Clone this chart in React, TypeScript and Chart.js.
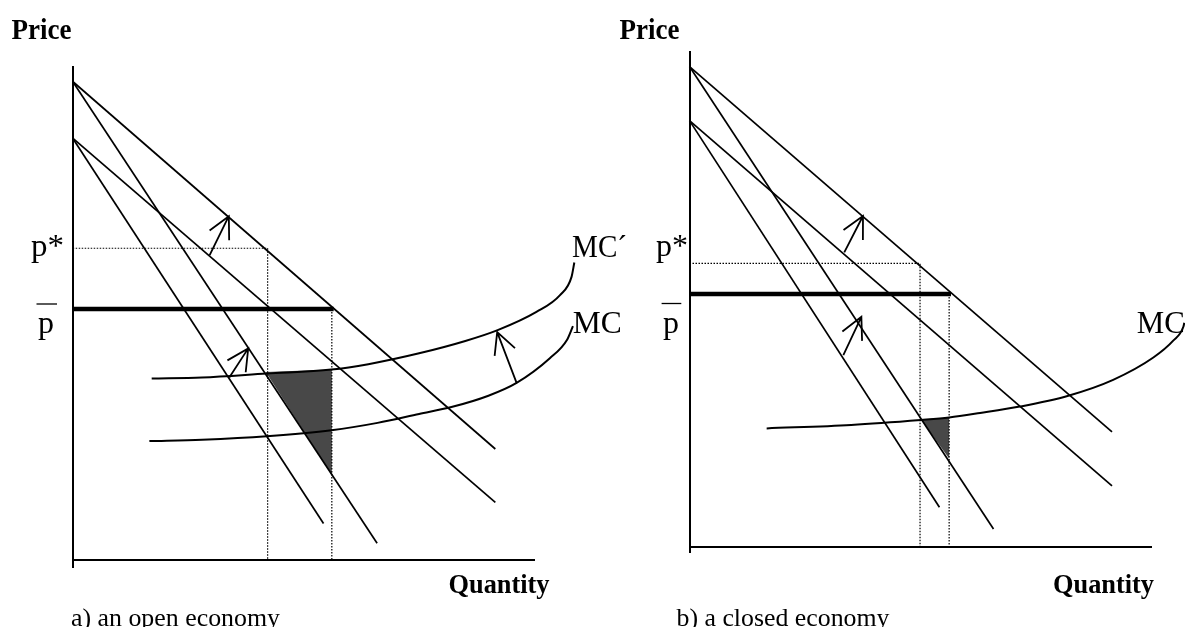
import React, { useEffect, useRef } from "react";
import { Chart, registerables } from "chart.js";

Chart.register(...registerables);

type Pt = { x: number; y: number };
type Arrow = { from: Pt; to: Pt };

// ---------- Panel a) an open economy (quantity 0..100, price 0..100) ----------
const A_D1_FLAT: Pt[] = [{ x: 0, y: 97 }, { x: 91.5, y: 22.5 }];
const A_D1_STEEP: Pt[] = [{ x: 0, y: 97 }, { x: 65.9, y: 3.4 }];
const A_D0_FLAT: Pt[] = [{ x: 0, y: 85.5 }, { x: 91.5, y: 11.7 }];
const A_D0_STEEP: Pt[] = [{ x: 0, y: 85.5 }, { x: 54.3, y: 7.4 }];
const A_MC: Pt[] = [
  { x: 16.6, y: 24.1 }, { x: 28, y: 24.4 }, { x: 42, y: 25.1 }, { x: 56, y: 26.3 },
  { x: 66, y: 27.8 }, { x: 75, y: 29.6 }, { x: 82, y: 31.0 }, { x: 90, y: 33.3 },
  { x: 96.1, y: 35.9 }, { x: 103.3, y: 40.9 }, { x: 107, y: 44.6 }, { x: 108.3, y: 47.4 },
];
const A_MC_PRIME: Pt[] = [
  { x: 17.1, y: 36.8 }, { x: 28, y: 37.0 }, { x: 42, y: 37.8 }, { x: 56, y: 38.6 },
  { x: 64, y: 39.7 }, { x: 75, y: 41.9 }, { x: 85, y: 44.4 }, { x: 92, y: 46.6 },
  { x: 100.4, y: 50.3 }, { x: 105.5, y: 53.7 }, { x: 108, y: 57.4 }, { x: 108.6, y: 60.3 },
];
const A_P_STAR = 63.2;
const A_Q_STAR = 42.2;
const A_P_BAR = 50.9;
const A_P_BAR_END = 56.5;
const A_Q_BAR = 56.1;
const A_LOSS: Pt[] = [{ x: 41.8, y: 38.1 }, { x: 56.1, y: 38.6 }, { x: 56.1, y: 17.2 }];
const A_ARROWS: Arrow[] = [
  { from: { x: 29.65, y: 61.8 }, to: { x: 33.8, y: 69.7 } },
  { from: { x: 33.9, y: 37.0 }, to: { x: 38.0, y: 42.9 } },
  { from: { x: 96.1, y: 35.9 }, to: { x: 91.9, y: 46.2 } },
];

// ---------- Panel b) a closed economy ----------
const B_D1_FLAT: Pt[] = [{ x: 0, y: 97 }, { x: 91.45, y: 23.3 }];
const B_D1_STEEP: Pt[] = [{ x: 0, y: 97 }, { x: 65.8, y: 3.7 }];
const B_D0_FLAT: Pt[] = [{ x: 0, y: 86.1 }, { x: 91.45, y: 12.4 }];
const B_D0_STEEP: Pt[] = [{ x: 0, y: 86.1 }, { x: 54.1, y: 8.1 }];
const B_MC: Pt[] = [
  { x: 16.7, y: 24.0 }, { x: 35, y: 24.7 }, { x: 50.1, y: 25.7 }, { x: 56.2, y: 26.2 },
  { x: 62.9, y: 27.1 }, { x: 71.5, y: 28.4 }, { x: 82, y: 30.6 }, { x: 91.7, y: 33.8 },
  { x: 100.4, y: 38.3 }, { x: 104.7, y: 41.7 }, { x: 106.9, y: 44.5 }, { x: 107.1, y: 45.3 },
];
const B_P_STAR = 57.3;
const B_Q_STAR = 49.9;
const B_P_BAR = 51.1;
const B_P_BAR_END = 56.6;
const B_Q_BAR = 56.2;
const B_LOSS: Pt[] = [{ x: 50.1, y: 25.8 }, { x: 56.2, y: 26.2 }, { x: 56.2, y: 17.9 }];
const B_ARROWS: Arrow[] = [
  { from: { x: 33.5, y: 59.5 }, to: { x: 37.55, y: 66.85 } },
  { from: { x: 33.3, y: 38.8 }, to: { x: 37.2, y: 46.5 } },
];

// ---------- text ----------
const FONT = '"Liberation Serif", "Times New Roman", serif';
type Label = {
  text: string; x: number; y: number; size: number; bold?: boolean; width?: number;
  overbar?: [number, number, number];
};

const A_LABELS: Label[] = [
  { text: "Price", x: 11.5, y: 39.3, size: 29, bold: true, width: 60 },
  { text: "p*", x: 31, y: 256, size: 32, width: 33 },
  { text: "p", x: 38, y: 333, size: 32, overbar: [36.5, 57, 304] },
  { text: "MC\u00B4", x: 572, y: 256.7, size: 32, width: 55 },
  { text: "MC", x: 572.7, y: 333.3, size: 32, width: 49 },
  { text: "Quantity", x: 448.5, y: 593, size: 27, bold: true, width: 101 },
  { text: "a) an open economy", x: 71, y: 626, size: 25, width: 209 },
];
const B_LABELS: Label[] = [
  { text: "Price", x: 619.4, y: 39.3, size: 29, bold: true, width: 60 },
  { text: "p*", x: 656, y: 256, size: 32, width: 32 },
  { text: "p", x: 663, y: 333, size: 32, overbar: [661.6, 681.3, 303.5] },
  { text: "MC", x: 1136.7, y: 333.3, size: 32, width: 48 },
  { text: "Quantity", x: 1053, y: 593, size: 27, bold: true, width: 101 },
  { text: "b) a closed economy", x: 676.5, y: 626, size: 25, width: 213 },
];

type Panel = {
  flat1: Pt[]; steep1: Pt[]; flat0: Pt[]; steep0: Pt[];
  curves: Pt[][];
  pStar: number; qStar: number; pBar: number; pBarEnd: number; qBar: number;
  loss: Pt[]; arrows: Arrow[]; labels: Label[];
  area: { left: number; right: number; top: number; bottom: number }; yMin: number;
};

const PANEL_A: Panel = {
  flat1: A_D1_FLAT, steep1: A_D1_STEEP, flat0: A_D0_FLAT, steep0: A_D0_STEEP,
  curves: [A_MC, A_MC_PRIME],
  pStar: A_P_STAR, qStar: A_Q_STAR, pBar: A_P_BAR, pBarEnd: A_P_BAR_END, qBar: A_Q_BAR,
  loss: A_LOSS, arrows: A_ARROWS, labels: A_LABELS,
  area: { left: 72.7, right: 534.6, top: 66.7, bottom: 567.4 }, yMin: -1.5,
};
const PANEL_B: Panel = {
  flat1: B_D1_FLAT, steep1: B_D1_STEEP, flat0: B_D0_FLAT, steep0: B_D0_STEEP,
  curves: [B_MC],
  pStar: B_P_STAR, qStar: B_Q_STAR, pBar: B_P_BAR, pBarEnd: B_P_BAR_END, qBar: B_Q_BAR,
  loss: B_LOSS, arrows: B_ARROWS, labels: B_LABELS,
  area: { left: 689.5, right: 1151.5, top: 51.7, bottom: 552.3 }, yMin: -1,
};

const W = 1185;
const H = 627;

function decorPlugin(panel: Panel) {
  return {
    id: "decor",
    beforeDatasetsDraw(chart: any) {
      const { ctx, scales } = chart;
      const xs = scales.x, ys = scales.y;
      ctx.save();
      ctx.beginPath();
      panel.loss.forEach((p, i) => {
        const px = xs.getPixelForValue(p.x);
        const py = ys.getPixelForValue(p.y);
        if (i === 0) ctx.moveTo(px, py); else ctx.lineTo(px, py);
      });
      ctx.closePath();
      ctx.fillStyle = "#484848";
      ctx.fill();
      ctx.restore();
    },
    afterDatasetsDraw(chart: any) {
      const { ctx, scales } = chart;
      const xs = scales.x, ys = scales.y;
      ctx.save();
      ctx.strokeStyle = "#000";
      ctx.lineWidth = 1.8;
      const L = 24;
      const a = (27 * Math.PI) / 180;
      panel.arrows.forEach((ar) => {
        const x0 = xs.getPixelForValue(ar.from.x), y0 = ys.getPixelForValue(ar.from.y);
        const x1 = xs.getPixelForValue(ar.to.x), y1 = ys.getPixelForValue(ar.to.y);
        const ang = Math.atan2(y1 - y0, x1 - x0);
        ctx.beginPath();
        ctx.moveTo(x0, y0);
        ctx.lineTo(x1, y1);
        ctx.moveTo(x1 - L * Math.cos(ang - a), y1 - L * Math.sin(ang - a));
        ctx.lineTo(x1, y1);
        ctx.lineTo(x1 - L * Math.cos(ang + a), y1 - L * Math.sin(ang + a));
        ctx.stroke();
      });
      ctx.restore();
    },
    afterDraw(chart: any) {
      const { ctx } = chart;
      ctx.save();
      ctx.fillStyle = "#000";
      ctx.textBaseline = "alphabetic";
      ctx.textAlign = "left";
      panel.labels.forEach((lb) => {
        ctx.font = `${lb.bold ? "bold " : ""}${lb.size}px ${FONT}`;
        const w = ctx.measureText(lb.text).width;
        const sx = lb.width ? lb.width / w : 1;
        ctx.save();
        ctx.translate(lb.x, lb.y);
        ctx.scale(sx, 1);
        ctx.fillText(lb.text, 0, 0);
        ctx.restore();
        if (lb.overbar) {
          ctx.beginPath();
          ctx.lineWidth = 1.3;
          ctx.strokeStyle = "#000";
          ctx.moveTo(lb.overbar[0], lb.overbar[2]);
          ctx.lineTo(lb.overbar[1], lb.overbar[2]);
          ctx.stroke();
        }
      });
      ctx.restore();
    },
  };
}

function lineDs(data: Pt[], width: number, extra: any = {}) {
  return {
    data,
    borderColor: "#000",
    backgroundColor: "#000",
    borderWidth: width,
    pointRadius: 0,
    fill: false,
    tension: 0,
    clip: false,
    ...extra,
  };
}

function buildConfig(panel: Panel): any {
  const datasets: any[] = [
    lineDs(panel.flat1, 1.7),
    lineDs(panel.steep1, 1.7),
    lineDs(panel.flat0, 1.7),
    lineDs(panel.steep0, 1.7),
    ...panel.curves.map((c) => lineDs(c, 2, { cubicInterpolationMode: "monotone" })),
    lineDs(
      [{ x: 0, y: panel.pBar }, { x: panel.pBarEnd, y: panel.pBar }],
      4.5,
      { borderCapStyle: "butt" }
    ),
    lineDs(
      [{ x: 0, y: panel.pStar }, { x: panel.qStar, y: panel.pStar }, { x: panel.qStar, y: 0 }],
      1.2,
      { borderDash: [1.5, 1.5] }
    ),
    lineDs(
      [{ x: panel.qBar, y: panel.pBar }, { x: panel.qBar, y: 0 }],
      1.2,
      { borderDash: [1.5, 1.5] }
    ),
  ];
  const axisCommon = {
    grid: { display: false, drawTicks: false },
    ticks: { display: false },
    border: { display: true, color: "#000", width: 2 },
  };
  return {
    type: "line",
    data: { datasets },
    options: {
      animation: false,
      responsive: false,
      maintainAspectRatio: false,
      events: [],
      layout: {
        padding: {
          left: panel.area.left,
          right: W - panel.area.right,
          top: panel.area.top,
          bottom: H - panel.area.bottom,
        },
      },
      plugins: {
        legend: { display: false },
        tooltip: { enabled: false },
        title: { display: false },
      },
      scales: {
        x: {
          type: "linear",
          bounds: "data",
          position: { y: 0 },
          // fix the quantity range to 0..100 without marking it as a user bound,
          // so curve points beyond the axis end are still drawn
          afterDataLimits: (s: any) => {
            s.min = 0;
            s.max = 100;
          },
          ...axisCommon,
        },
        y: { type: "linear", min: panel.yMin, max: 100, bounds: "data", ...axisCommon },
      },
    },
    plugins: [decorPlugin(panel)],
  };
}

export default function App() {
  const leftRef = useRef<HTMLCanvasElement>(null);
  const rightRef = useRef<HTMLCanvasElement>(null);

  useEffect(() => {
    const c1 = new Chart(leftRef.current as HTMLCanvasElement, buildConfig(PANEL_A));
    const c2 = new Chart(rightRef.current as HTMLCanvasElement, buildConfig(PANEL_B));
    return () => {
      c1.destroy();
      c2.destroy();
    };
  }, []);

  return (
    <div style={{ position: "fixed", left: 0, top: 0, width: W, height: H, background: "#fff" }}>
      <canvas ref={leftRef} width={W} height={H} style={{ position: "absolute", left: 0, top: 0 }} />
      <canvas ref={rightRef} width={W} height={H} style={{ position: "absolute", left: 0, top: 0 }} />
    </div>
  );
}
